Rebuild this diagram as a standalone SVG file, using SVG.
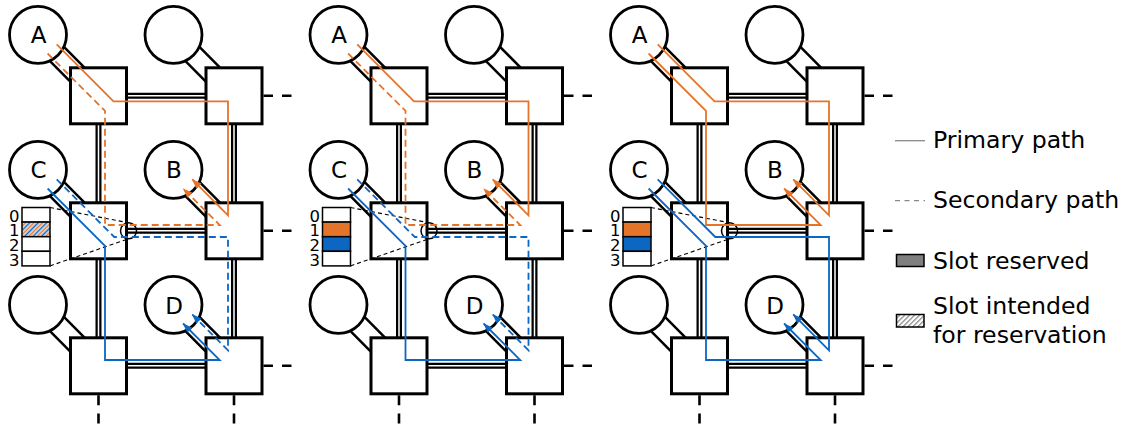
<svg xmlns="http://www.w3.org/2000/svg" width="1134" height="425" viewBox="0 0 1134 425">
<defs>
<style>
.rt{fill:#fff;stroke:#000;stroke-width:3}
.nd{fill:#fff;stroke:#000;stroke-width:2.8}
.lbl{font-family:"DejaVu Sans",Verdana,sans-serif;font-size:23px;text-anchor:middle;fill:#000}
.bd{fill:none;stroke:#000;stroke-width:22.5}
.bdi{fill:none;stroke:#fff;stroke-width:17.5}
.lk{fill:none;stroke:#000;stroke-width:6}
.lki{fill:none;stroke:#fff;stroke-width:1.5}
.sh{fill:none;stroke:#000;stroke-width:2.6;stroke-dasharray:9.5 9}
.sv{fill:none;stroke:#000;stroke-width:2.6;stroke-dasharray:10 8.2}
.or{fill:none;stroke:#E5742B;stroke-width:1.8;marker-end:url(#aO)}
.bl{fill:none;stroke:#0B67C2;stroke-width:1.8;marker-end:url(#aB)}
.da{stroke-dasharray:7 4}
.cell{fill:#fff;stroke:#000;stroke-width:1.5}
.zl{fill:none;stroke:#000;stroke-width:1.1;stroke-dasharray:4 3}
.zc{fill:none;stroke:#000;stroke-width:1.5}
.dig{font-family:"DejaVu Sans",Verdana,sans-serif;font-size:16.5px;text-anchor:middle;fill:#000}
.leg{font-family:"DejaVu Sans",Verdana,sans-serif;font-size:23.6px;fill:#000}
</style>
<marker id="aO" markerUnits="userSpaceOnUse" viewBox="0 0 10 8" markerWidth="10" markerHeight="8" refX="9.5" refY="4" orient="auto"><path d="M0,0.4L10,4L0,7.6Z" fill="#E5742B"/></marker>
<marker id="aB" markerUnits="userSpaceOnUse" viewBox="0 0 10 8" markerWidth="10" markerHeight="8" refX="9.5" refY="4" orient="auto"><path d="M0,0.4L10,4L0,7.6Z" fill="#0B67C2"/></marker>
<pattern id="hOB" patternUnits="userSpaceOnUse" width="6" height="6" patternTransform="rotate(45)"><rect width="6" height="6" fill="#fff"/><line x1="1.5" y1="0" x2="1.5" y2="6" stroke="#E5742B" stroke-width="1.7"/><line x1="4.5" y1="0" x2="4.5" y2="6" stroke="#0B67C2" stroke-width="1.7"/></pattern>
<pattern id="hG" patternUnits="userSpaceOnUse" width="3.5" height="3.5" patternTransform="rotate(45)"><rect width="3.5" height="3.5" fill="#fff"/><line x1="1.5" y1="0" x2="1.5" y2="3.5" stroke="#777" stroke-width="1.1"/></pattern>
</defs>
<rect width="1134" height="425" fill="#fff"/>

<!-- ===== Panel 1 ===== -->
<g id="panel1">
 <g id="p1-links">
  <path class="bd" d="M38,34.8L98.5,95.8M173.5,34.8L234,95.8M38,169.8L98.5,230.8M173.5,169.8L234,230.8M38,304.8L98.5,365.8M173.5,304.8L234,365.8"/>
  <path class="bdi" d="M38,34.8L98.5,95.8M173.5,34.8L234,95.8M38,169.8L98.5,230.8M173.5,169.8L234,230.8M38,304.8L98.5,365.8M173.5,304.8L234,365.8"/>
  <path class="lk" d="M98.5,95.8H234M98.5,230.8H234M98.5,365.8H234M98.5,95.8V365.8M234,95.8V365.8"/>
  <path class="lki" d="M98.5,95.8H234M98.5,230.8H234M98.5,365.8H234M98.5,95.8V365.8M234,95.8V365.8"/>
  <path class="sh" d="M263.5,95.8H292M263.5,230.8H292M263.5,365.8H292"/>
  <path class="sv" d="M98.5,395.3V425M234,395.3V425"/>
 </g>
 <g id="p1-r11"><rect class="rt" x="70.5" y="67.8" width="56" height="56"/></g>
 <g id="p1-r12"><rect class="rt" x="206" y="67.8" width="56" height="56"/></g>
 <g id="p1-r21"><rect class="rt" x="70.5" y="202.8" width="56" height="56"/></g>
 <g id="p1-r22"><rect class="rt" x="206" y="202.8" width="56" height="56"/></g>
 <g id="p1-r31"><rect class="rt" x="70.5" y="337.8" width="56" height="56"/></g>
 <g id="p1-r32"><rect class="rt" x="206" y="337.8" width="56" height="56"/></g>
 <g id="p1-A"><circle class="nd" cx="38" cy="34.8" r="28.5"/><text class="lbl" x="38.5" y="43.3">A</text></g>
 <g id="p1-h12"><circle class="nd" cx="173.5" cy="34.8" r="28.5"/></g>
 <g id="p1-C"><circle class="nd" cx="38" cy="169.8" r="28.5"/><text class="lbl" x="38.5" y="178.3">C</text></g>
 <g id="p1-B"><circle class="nd" cx="173.5" cy="169.8" r="28.5"/><text class="lbl" x="174" y="178.3">B</text></g>
 <g id="p1-h31"><circle class="nd" cx="38" cy="304.8" r="28.5"/></g>
 <g id="p1-D"><circle class="nd" cx="173.5" cy="304.8" r="28.5"/><text class="lbl" x="174" y="313.5">D</text></g>
 <g id="p1-slots">
  <rect class="cell" x="22" y="207.5" width="28" height="14.6"/>
  <rect class="cell" x="22" y="222.1" width="28" height="14.6" style="fill:url(#hOB)"/>
  <rect class="cell" x="22" y="236.7" width="28" height="14.6"/>
  <rect class="cell" x="22" y="251.3" width="28" height="14.6"/>
  <text class="dig" x="14.3" y="221.6">0</text>
  <text class="dig" x="14.3" y="236.2">1</text>
  <text class="dig" x="14.3" y="250.8">2</text>
  <text class="dig" x="14.3" y="265.6">3</text>
  <path class="zl" d="M50,207.5L128.5,222.8M50,265.9L128.5,238.8"/>
  <circle class="zc" cx="128.5" cy="230.8" r="8"/>
 </g>
 <g id="p1-paths">
  <path class="or" d="M56.7,44.4L113.5,101.3H228V215.3L192.2,179.4"/>
  <path class="or da" d="M47.6,53.5L105,110.9V225H219.7L183.1,188.5"/>
  <path class="bl" d="M47.6,188.5L105,245.9V360H219.7L183.1,323.5"/>
  <path class="bl da" d="M56.7,179.4L114.3,237H228V350.3L192.2,314.4"/>
 </g>
</g>

<!-- ===== Panel 2 ===== -->
<g id="panel2" transform="translate(300.5,0)">
 <g id="p2-links">
  <path class="bd" d="M38,34.8L98.5,95.8M173.5,34.8L234,95.8M38,169.8L98.5,230.8M173.5,169.8L234,230.8M38,304.8L98.5,365.8M173.5,304.8L234,365.8"/>
  <path class="bdi" d="M38,34.8L98.5,95.8M173.5,34.8L234,95.8M38,169.8L98.5,230.8M173.5,169.8L234,230.8M38,304.8L98.5,365.8M173.5,304.8L234,365.8"/>
  <path class="lk" d="M98.5,95.8H234M98.5,230.8H234M98.5,365.8H234M98.5,95.8V365.8M234,95.8V365.8"/>
  <path class="lki" d="M98.5,95.8H234M98.5,230.8H234M98.5,365.8H234M98.5,95.8V365.8M234,95.8V365.8"/>
  <path class="sh" d="M263.5,95.8H292M263.5,230.8H292M263.5,365.8H292"/>
  <path class="sv" d="M98.5,395.3V425M234,395.3V425"/>
 </g>
 <g id="p2-r11"><rect class="rt" x="70.5" y="67.8" width="56" height="56"/></g>
 <g id="p2-r12"><rect class="rt" x="206" y="67.8" width="56" height="56"/></g>
 <g id="p2-r21"><rect class="rt" x="70.5" y="202.8" width="56" height="56"/></g>
 <g id="p2-r22"><rect class="rt" x="206" y="202.8" width="56" height="56"/></g>
 <g id="p2-r31"><rect class="rt" x="70.5" y="337.8" width="56" height="56"/></g>
 <g id="p2-r32"><rect class="rt" x="206" y="337.8" width="56" height="56"/></g>
 <g id="p2-A"><circle class="nd" cx="38" cy="34.8" r="28.5"/><text class="lbl" x="38.5" y="43.3">A</text></g>
 <g id="p2-h12"><circle class="nd" cx="173.5" cy="34.8" r="28.5"/></g>
 <g id="p2-C"><circle class="nd" cx="38" cy="169.8" r="28.5"/><text class="lbl" x="38.5" y="178.3">C</text></g>
 <g id="p2-B"><circle class="nd" cx="173.5" cy="169.8" r="28.5"/><text class="lbl" x="174" y="178.3">B</text></g>
 <g id="p2-h31"><circle class="nd" cx="38" cy="304.8" r="28.5"/></g>
 <g id="p2-D"><circle class="nd" cx="173.5" cy="304.8" r="28.5"/><text class="lbl" x="174" y="313.5">D</text></g>
 <g id="p2-slots">
  <rect class="cell" x="22" y="207.5" width="28" height="14.6"/>
  <rect class="cell" x="22" y="222.1" width="28" height="14.6" style="fill:#E5742B"/>
  <rect class="cell" x="22" y="236.7" width="28" height="14.6" style="fill:#0B67C2"/>
  <rect class="cell" x="22" y="251.3" width="28" height="14.6"/>
  <text class="dig" x="14.3" y="221.6">0</text>
  <text class="dig" x="14.3" y="236.2">1</text>
  <text class="dig" x="14.3" y="250.8">2</text>
  <text class="dig" x="14.3" y="265.6">3</text>
  <path class="zl" d="M50,207.5L128.5,222.8M50,265.9L128.5,238.8"/>
  <circle class="zc" cx="128.5" cy="230.8" r="8"/>
 </g>
 <g id="p2-paths">
  <path class="or" d="M56.7,44.4L113.5,101.3H228V215.3L192.2,179.4"/>
  <path class="or da" d="M47.6,53.5L105,110.9V225H219.7L183.1,188.5"/>
  <path class="bl" d="M47.6,188.5L105,245.9V360H219.7L183.1,323.5"/>
  <path class="bl da" d="M56.7,179.4L114.3,237H228V350.3L192.2,314.4"/>
 </g>
</g>

<!-- ===== Panel 3 ===== -->
<g id="panel3" transform="translate(601,0)">
 <g id="p3-links">
  <path class="bd" d="M38,34.8L98.5,95.8M173.5,34.8L234,95.8M38,169.8L98.5,230.8M173.5,169.8L234,230.8M38,304.8L98.5,365.8M173.5,304.8L234,365.8"/>
  <path class="bdi" d="M38,34.8L98.5,95.8M173.5,34.8L234,95.8M38,169.8L98.5,230.8M173.5,169.8L234,230.8M38,304.8L98.5,365.8M173.5,304.8L234,365.8"/>
  <path class="lk" d="M98.5,95.8H234M98.5,230.8H234M98.5,365.8H234M98.5,95.8V365.8M234,95.8V365.8"/>
  <path class="lki" d="M98.5,95.8H234M98.5,230.8H234M98.5,365.8H234M98.5,95.8V365.8M234,95.8V365.8"/>
  <path class="sh" d="M263.5,95.8H292M263.5,230.8H292M263.5,365.8H292"/>
  <path class="sv" d="M98.5,395.3V425M234,395.3V425"/>
 </g>
 <g id="p3-r11"><rect class="rt" x="70.5" y="67.8" width="56" height="56"/></g>
 <g id="p3-r12"><rect class="rt" x="206" y="67.8" width="56" height="56"/></g>
 <g id="p3-r21"><rect class="rt" x="70.5" y="202.8" width="56" height="56"/></g>
 <g id="p3-r22"><rect class="rt" x="206" y="202.8" width="56" height="56"/></g>
 <g id="p3-r31"><rect class="rt" x="70.5" y="337.8" width="56" height="56"/></g>
 <g id="p3-r32"><rect class="rt" x="206" y="337.8" width="56" height="56"/></g>
 <g id="p3-A"><circle class="nd" cx="38" cy="34.8" r="28.5"/><text class="lbl" x="38.5" y="43.3">A</text></g>
 <g id="p3-h12"><circle class="nd" cx="173.5" cy="34.8" r="28.5"/></g>
 <g id="p3-C"><circle class="nd" cx="38" cy="169.8" r="28.5"/><text class="lbl" x="38.5" y="178.3">C</text></g>
 <g id="p3-B"><circle class="nd" cx="173.5" cy="169.8" r="28.5"/><text class="lbl" x="174" y="178.3">B</text></g>
 <g id="p3-h31"><circle class="nd" cx="38" cy="304.8" r="28.5"/></g>
 <g id="p3-D"><circle class="nd" cx="173.5" cy="304.8" r="28.5"/><text class="lbl" x="174" y="313.5">D</text></g>
 <g id="p3-slots">
  <rect class="cell" x="22" y="207.5" width="28" height="14.6"/>
  <rect class="cell" x="22" y="222.1" width="28" height="14.6" style="fill:#E5742B"/>
  <rect class="cell" x="22" y="236.7" width="28" height="14.6" style="fill:#0B67C2"/>
  <rect class="cell" x="22" y="251.3" width="28" height="14.6"/>
  <text class="dig" x="14.3" y="221.6">0</text>
  <text class="dig" x="14.3" y="236.2">1</text>
  <text class="dig" x="14.3" y="250.8">2</text>
  <text class="dig" x="14.3" y="265.6">3</text>
  <path class="zl" d="M50,207.5L128.5,222.8M50,265.9L128.5,238.8"/>
  <circle class="zc" cx="128.5" cy="230.8" r="8"/>
 </g>
 <g id="p3-paths">
  <path class="or" d="M56.7,44.4L113.5,101.3H228V215.3L192.2,179.4"/>
  <path class="or" d="M47.6,53.5L105,110.9V225H219.7L183.1,188.5"/>
  <path class="bl" d="M47.6,188.5L105,245.9V360H219.7L183.1,323.5"/>
  <path class="bl" d="M56.7,179.4L114.3,237H228V350.3L192.2,314.4"/>
 </g>
</g>

<!-- ===== Legend ===== -->
<g id="legend">
 <g id="leg-primary"><line x1="895" y1="140.7" x2="925" y2="140.7" stroke="#8a8a8a" stroke-width="1.3"/><text class="leg" x="933" y="148.3">Primary path</text></g>
 <g id="leg-secondary"><line x1="895" y1="200.7" x2="925" y2="200.7" stroke="#8a8a8a" stroke-width="1.3" stroke-dasharray="5 4.5"/><text class="leg" x="933" y="208.3">Secondary path</text></g>
 <g id="leg-reserved"><rect x="896.5" y="254.5" width="27.5" height="12" fill="#7f7f7f" stroke="#000" stroke-width="1.5"/><text class="leg" x="933" y="269.3">Slot reserved</text></g>
 <g id="leg-intended"><rect x="896.5" y="314.5" width="27.5" height="12.5" fill="url(#hG)" stroke="#000" stroke-width="1.5"/><text class="leg" x="933" y="314.3">Slot intended</text><text class="leg" x="933" y="342.7">for reservation</text></g>
</g>
</svg>
